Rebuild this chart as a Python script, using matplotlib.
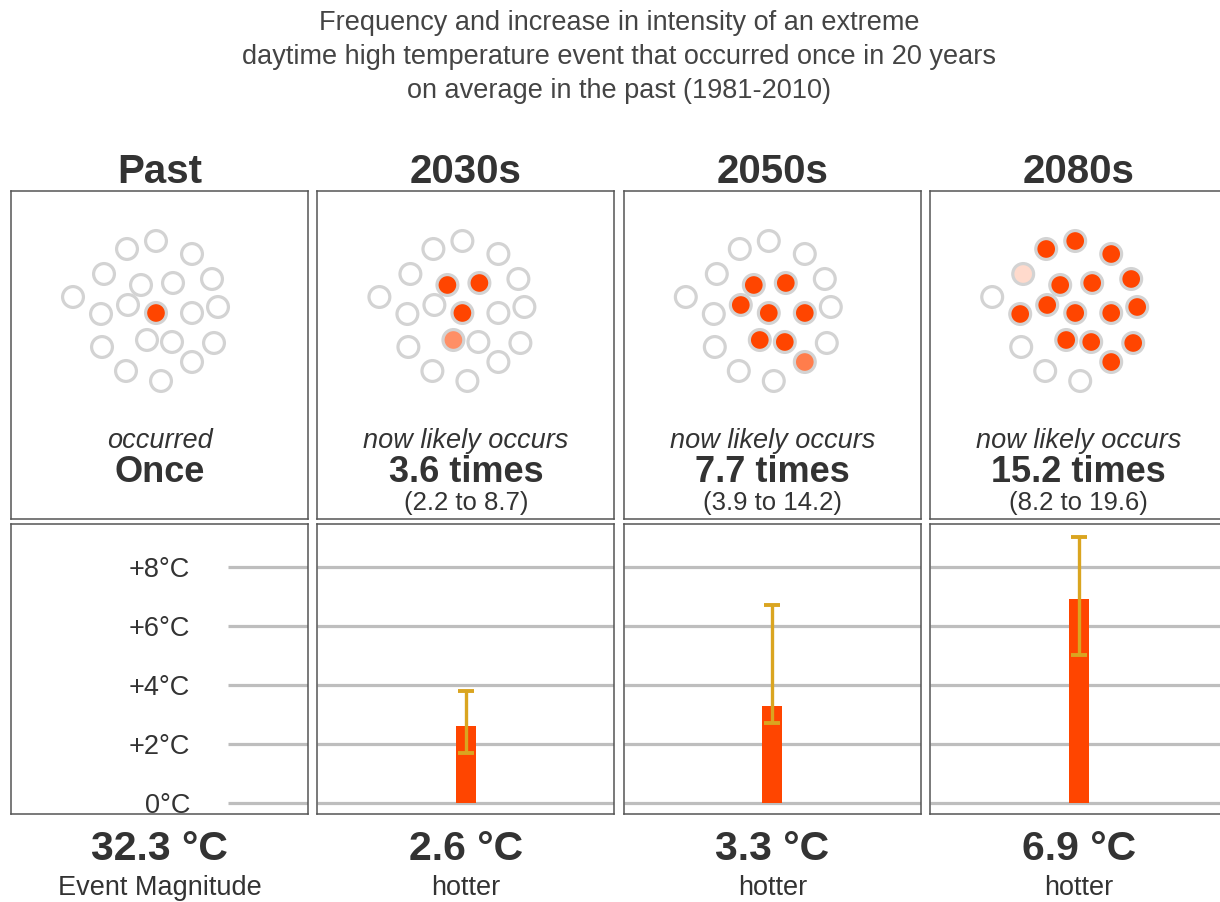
import numpy as np
import matplotlib.pyplot as plt
from matplotlib.colors import to_rgb

# Daten
periods = ["Past", "2030s", "2050s", "2080s"]
freq = [1.0, 3.6, 7.7, 15.2]
freq_lines = ["Once", "3.6 times", "7.7 times", "15.2 times"]
freq_ranges = ["", "(2.2 to 8.7)", "(3.9 to 14.2)", "(8.2 to 19.6)"]
freq_captions = ["occurred", "now likely occurs", "now likely occurs", "now likely occurs"]
hotter = [2.6, 3.3, 6.9]          # 2030s, 2050s, 2080s
hotter_low = [1.7, 2.7, 5.0]
hotter_high = [3.8, 6.7, 9.0]
magnitude_labels = ["32.3 °C", "2.6 °C", "3.3 °C", "6.9 °C"]
bottom_captions = ["Event Magnitude", "hotter", "hotter", "hotter"]
y_ticks = [0, 2, 4, 6, 8]

# Anordnung der 20 Punkte (Pixel im Kasten) und Reihenfolge der Füllung
dot_layout = np.array([
    (116, 58), (145, 50), (181, 63), (93, 83), (130, 94), (162, 92),
    (201, 88), (62, 106), (90, 123), (117, 114), (145, 122), (181, 122),
    (207, 116), (91, 156), (136, 149), (161, 151), (203, 152), (115, 180),
    (181, 171), (150, 190)])
fill_order = [10, 4, 5, 14, 9, 11, 15, 18, 0, 1, 2, 6, 8, 12, 16, 3, 7, 13, 17, 19]

ORANGE = "#FF4500"
GOLD = "#DAA520"
TXT = "#333333"
GRID = "#BEBEBE"
DOT_EDGE = "#D3D3D3"

plt.rcParams["font.family"] = ["Liberation Sans", "DejaVu Sans"]

W, H = 1220, 903
fig = plt.figure(figsize=(W / 100, H / 100), dpi=100)


def px_axes(left, top, w, h):
    return fig.add_axes([left / W, 1 - (top + h) / H, w / W, h / H])


fig.text(0.5 + 9 / W, 1 - 57 / H,
         "Frequency and increase in intensity of an extreme\n"
         "daytime high temperature event that occurred once in 20 years\n"
         "on average in the past (1981-2010)",
         ha="center", va="center", fontsize=19.5, color="#444444",
         linespacing=1.38)

box_w = 297
top_y, top_h = 192, 328
bot_y, bot_h = 525, 290
white = np.array([1.0, 1.0, 1.0])
orange = np.array(to_rgb(ORANGE))

for i, name in enumerate(periods):
    left = 11 + 306.4 * i
    cx = (left + box_w / 2) / W

    # Kopfzeile
    fig.text(cx, 1 - 172 / H, name, ha="center", va="center",
             fontsize=29, fontweight="bold", color=TXT)

    # oberer Kasten: Punkte
    ax = px_axes(left, top_y, box_w, top_h)
    ax.set_xlim(0, box_w)
    ax.set_ylim(top_h, 0)
    ax.set_xticks([])
    ax.set_yticks([])
    for s in ax.spines.values():
        s.set_color("#555555")
        s.set_linewidth(1.1)

    n_full = int(freq[i])
    frac = freq[i] - n_full
    colors = []
    for k in range(len(dot_layout)):
        rank = fill_order.index(k)
        if rank < n_full:
            colors.append(orange)
        elif rank == n_full and frac > 0:
            colors.append(frac * orange + (1 - frac) * white)
        else:
            colors.append(white)
    ax.scatter(dot_layout[:, 0], dot_layout[:, 1], s=225, c=colors,
               edgecolors=DOT_EDGE, linewidths=2.3, zorder=3)

    ax.text(box_w / 2, 249, freq_captions[i], ha="center", va="center",
            fontsize=19.5, style="italic", color=TXT)
    ax.text(box_w / 2, 281, freq_lines[i], ha="center", va="center",
            fontsize=26, fontweight="bold", color=TXT)
    if freq_ranges[i]:
        ax.text(box_w / 2, 311, freq_ranges[i], ha="center", va="center",
                fontsize=18.5, color=TXT)

    # unterer Kasten: Balken
    bx = px_axes(left, bot_y, box_w, bot_h)
    bx.set_xlim(0, box_w)
    bx.set_ylim(-0.37, 9.45)
    bx.set_xticks([])
    bx.set_yticks([])
    for s in bx.spines.values():
        s.set_color("#555555")
        s.set_linewidth(1.1)

    if i == 0:
        bx.hlines(y_ticks, 217, box_w, color=GRID, lw=2.3, zorder=1)
        for t in y_ticks:
            lab = "0°C" if t == 0 else f"+{t}°C"
            bx.text(179, t - 0.08, lab, ha="right", va="center",
                    fontsize=19.5, color=TXT, clip_on=True)
    else:
        bx.hlines(y_ticks, 0, box_w, color=GRID, lw=2.3, zorder=1)
        j = i - 1
        bx.bar(box_w / 2, hotter[j], width=20, color=ORANGE, zorder=2)
        err = [[hotter[j] - hotter_low[j]], [hotter_high[j] - hotter[j]]]
        bx.errorbar(box_w / 2, hotter[j], yerr=err, fmt="none",
                    ecolor=GOLD, elinewidth=2.4, capsize=5.5,
                    capthick=2.8, zorder=3)

    # Beschriftung unten
    fig.text(cx, 1 - 849 / H, magnitude_labels[i], ha="center", va="center",
             fontsize=29.5, fontweight="bold", color=TXT)
    fig.text(cx, 1 - 888 / H, bottom_captions[i], ha="center", va="center",
             fontsize=19.5, color=TXT)

fig.savefig("out.png", dpi=100)
